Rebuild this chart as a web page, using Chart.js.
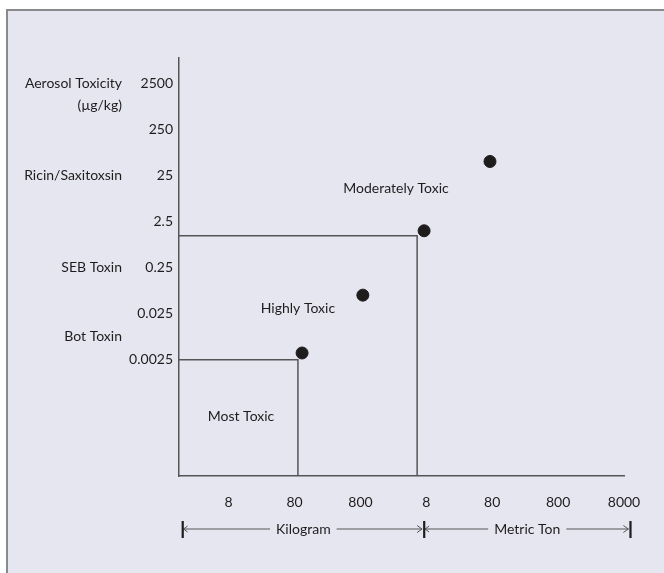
<!DOCTYPE html>
<html>
<head>
<meta charset="utf-8">
<script src="https://cdn.jsdelivr.net/npm/chart.js@4"></script>
<style>
html, body { margin: 0; padding: 0; background: #fff; width: 664px; height: 573px; overflow: hidden; }
#frame { position: absolute; left: 6px; top: 9px; width: 680px; height: 600px; background: #e6e6f0; border-top: 2px solid #8a8a8a; border-left: 2px solid #8a8a8a; }
#wrap { position: absolute; left: 0; top: 0; width: 664px; height: 573px; }
</style>
</head>
<body>
<div id="frame"></div>
<div id="wrap"><canvas id="toxChart"></canvas></div>
<script>
// --- Data ---
const xTicks = [8, 80, 800, 8000, 80000, 800000, 8000000];   // quantity, kg
const xTickLabels = ['8', '80', '800', '8', '80', '800', '8000'];
const yTicks = [0.0025, 0.025, 0.25, 2.5, 25, 250, 2500];     // µg/kg
const yTickLabels = ['0.0025', '0.025', '0.25', '2.5', '25', '250', '2500'];

const agentQty = [104, 870, 7400, 74000];
const agentTox = [0.0035, 0.063, 1.57, 50];

// corners of the region boxes (quantity, toxicity)
const mostToxicCorner = [90, 0.0025];
const highlyToxicCorner = [5800, 1.22];

const regionNames = ['Most Toxic', 'Highly Toxic', 'Moderately Toxic'];
const regionQty = [12.3, 90, 2770];
const regionTox = [0.000144, 0.0326, 13];

const toxinNames = ['Ricin/Saxitoxsin', 'SEB Toxin', 'Bot Toxin'];
const toxinTox = [25, 0.25, 0.008];

const unitNames = ['Kilogram', 'Metric Ton'];
const unitBounds = [1.6, 7400, 1e7];

const X_MIN = 1.41, X_MAX = 8000000;
const Y_MIN = 7.5e-6, Y_MAX = 8800;

const TEXT = '#1f1c1d';
const LINE = '#555558';
const FONT = '14px Lato';

// --- Text + bracket plugin ---
const annotations = {
    id: 'annotations',
    afterDatasetsDraw(chart) {
        const { ctx, scales: { x, y } } = chart;
        ctx.save();
        ctx.font = FONT;
        ctx.fillStyle = TEXT;
        ctx.textBaseline = 'middle';

        // region names
        ctx.textAlign = 'center';
        regionNames.forEach((n, i) => {
            ctx.fillText(n, x.getPixelForValue(regionQty[i]), y.getPixelForValue(regionTox[i]));
        });

        // left side labels
        ctx.textAlign = 'right';
        const lx = 122;
        const top = y.getPixelForValue(yTicks[yTicks.length - 1]);
        ctx.fillText('Aerosol Toxicity', lx, top);
        ctx.fillText('(µg/kg)', lx, top + 22);
        toxinNames.forEach((n, i) => ctx.fillText(n, lx, y.getPixelForValue(toxinTox[i])));

        // unit brackets under the x axis
        const by = 529;
        const edges = unitBounds.map(v => x.getPixelForValue(v));
        ctx.strokeStyle = LINE;
        ctx.lineWidth = 1;
        ctx.textAlign = 'center';
        unitNames.forEach((n, i) => {
            const x0 = edges[i], x1 = edges[i + 1];
            const mid = (x0 + x1) / 2;
            const w = ctx.measureText(n).width;
            ctx.fillText(n, mid, by);
            ctx.beginPath();
            ctx.moveTo(x0, by); ctx.lineTo(mid - w / 2 - 6, by);
            ctx.moveTo(mid + w / 2 + 6, by); ctx.lineTo(x1 - 2, by);
            // arrow heads
            ctx.moveTo(x0 + 5, by - 3); ctx.lineTo(x0 + 1, by); ctx.lineTo(x0 + 5, by + 3);
            ctx.moveTo(x1 - 7, by - 3.5); ctx.lineTo(x1 - 2, by); ctx.lineTo(x1 - 7, by + 3.5);
            ctx.stroke();
        });
        ctx.fillStyle = TEXT;
        edges.forEach(e => ctx.fillRect(e - 1, by - 8, 2.2, 17));
        ctx.restore();
    }
};

// --- Chart ---
const ctx = document.getElementById('toxChart').getContext('2d');
const boxLine = { type: 'line', showLine: true, borderColor: LINE, borderWidth: 1.5, pointRadius: 0, fill: false, tension: 0 };

new Chart(ctx, {
    type: 'scatter',
    data: {
        datasets: [
            Object.assign({
                data: [
                    { x: X_MIN, y: mostToxicCorner[1] },
                    { x: mostToxicCorner[0], y: mostToxicCorner[1] },
                    { x: mostToxicCorner[0], y: Y_MIN }
                ]
            }, boxLine),
            Object.assign({
                data: [
                    { x: X_MIN, y: highlyToxicCorner[1] },
                    { x: highlyToxicCorner[0], y: highlyToxicCorner[1] },
                    { x: highlyToxicCorner[0], y: Y_MIN }
                ]
            }, boxLine),
            {
                data: agentQty.map((q, i) => ({ x: q, y: agentTox[i] })),
                backgroundColor: TEXT,
                borderColor: TEXT,
                pointRadius: 6,
                pointHoverRadius: 6
            }
        ]
    },
    options: {
        responsive: true,
        maintainAspectRatio: false,
        animation: false,
        layout: { padding: { left: 0, top: 58, right: 40, bottom: 0 } },
        plugins: { legend: { display: false }, tooltip: { enabled: false } },
        scales: {
            x: {
                type: 'logarithmic',
                min: X_MIN, max: X_MAX,
                grid: { display: false, drawTicks: false },
                border: { display: true, color: LINE, width: 1.5 },
                afterBuildTicks: s => { s.ticks = xTicks.map(v => ({ value: v })); },
                afterFit: s => { s.height = 97; },
                ticks: {
                    autoSkip: false, maxRotation: 0, padding: 18,
                    color: TEXT, font: { family: 'Lato', size: 14 },
                    callback: (v, i) => xTickLabels[i]
                }
            },
            y: {
                type: 'logarithmic',
                min: Y_MIN, max: Y_MAX,
                grid: { display: false, drawTicks: false },
                border: { display: true, color: LINE, width: 1.5 },
                afterBuildTicks: s => { s.ticks = yTicks.map(v => ({ value: v })); },
                afterFit: s => { s.width = 179; },
                ticks: {
                    autoSkip: false, padding: 6,
                    color: TEXT, font: { family: 'Lato', size: 14 },
                    callback: (v, i) => yTickLabels[i]
                }
            }
        }
    },
    plugins: [annotations]
});
</script>
</body>
</html>
